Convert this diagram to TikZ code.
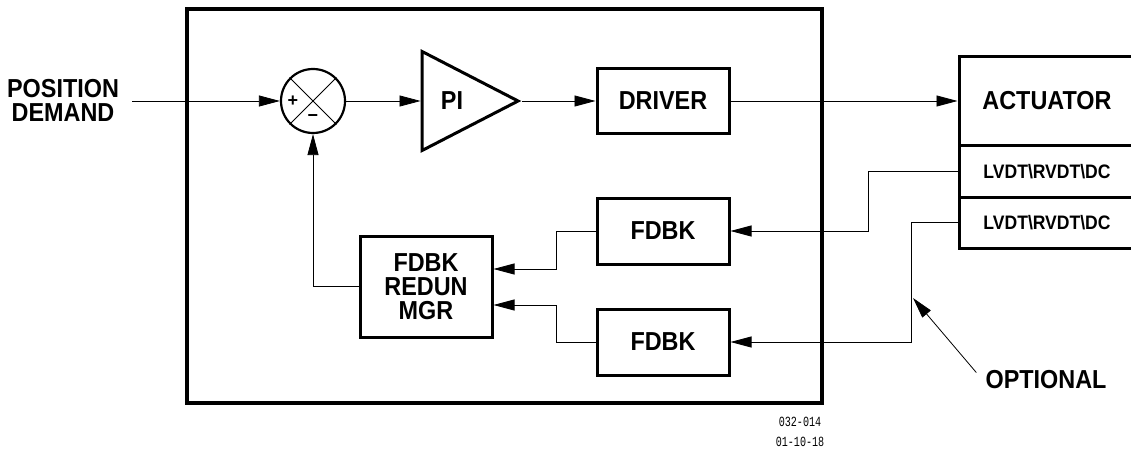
\documentclass[tikz,border=0pt]{standalone}
\usepackage{fontspec}
\setmainfont{Liberation Sans}
\newfontfamily\cadfont[FakeStretch=0.9]{Liberation Sans}
\newfontfamily\cadmono[FakeStretch=0.72]{Liberation Mono}
\usetikzlibrary{arrows.meta,shapes.geometric,calc}

\begin{document}
\begin{tikzpicture}[x=1pt, y=-1pt,
  big/.style={font=\cadfont\fontsize{26}{24}\selectfont\bfseries, align=center, inner sep=0pt},
  small/.style={font=\cadfont\fontsize{19.5}{20}\selectfont\bfseries},
  blk/.style={draw, line width=3pt, minimum width=132pt, inner sep=0pt, big},
  wire/.style={line width=0.8pt},
  arr/.style={-{Triangle[length=21pt,width=11pt]}}]
  \useasboundingbox (0,0) rectangle (1131,449);
  \clip (0,0) rectangle (1131,449);
  \draw[line width=3.5pt] (187,9) rectangle (822,403);
  \node[big] (pd) at (63,100) {POSITION\\DEMAND};
  \coordinate (in) at (132,101);
  \node[circle, draw, line width=2.2pt, minimum size=64pt, inner sep=0pt] (sum) at (313,101) {};
  \draw[wire] (sum.north west) -- (sum.south east);
  \draw[wire] (sum.north east) -- (sum.south west);
  \node[font=\fontsize{18}{18}\selectfont\bfseries, inner sep=0pt] (plus) at (293,101) {+};
  \node[font=\fontsize{18}{18}\selectfont\bfseries, inner sep=0pt] (minus) at (313,118) {−};
  \node[isosceles triangle, isosceles triangle stretches, draw, line width=3pt, minimum width=99pt, minimum height=96pt, inner sep=0pt, anchor=apex] (pi) at (522,101) {};
  \node[big] (pitxt) at (452,101) {PI};
  \node[blk, minimum height=65pt] (drv) at (663,101) {DRIVER};
  \node[blk, minimum height=66pt] (fb1) at (663,231) {FDBK};
  \node[blk, minimum height=66pt] (fb2) at (663,342) {FDBK};
  \node[blk, minimum height=101pt] (mgr) at (426,286.5) {FDBK\\REDUN\\MGR};
  \node[blk, minimum width=176pt, minimum height=89pt] (act) at (1047,101) {ACTUATOR};
  \node[blk, small, minimum width=176pt, minimum height=51.5pt] (lvdta) at (1047,171.25) {LVDT\textbackslash RVDT\textbackslash DC};
  \node[blk, small, minimum width=176pt, minimum height=51pt] (lvdtb) at (1047,222.5) {LVDT\textbackslash RVDT\textbackslash DC};
  \node[big] (opt) at (1046,380) {OPTIONAL};
  \coordinate (tap) at (913,298);
  \node[font=\cadmono\fontsize{14}{14}\selectfont, inner sep=0pt] (num) at (800,422) {032-014};
  \node[font=\cadmono\fontsize{14}{14}\selectfont, inner sep=0pt] (dat) at (800,442) {01-10-18};
  % forward path
  \draw[wire, arr] (in) -- (sum.west);
  \draw[wire, arr] (sum.east) -- (pi.west);
  \draw[wire, arr] (pi.apex) -- (drv.west);
  \draw[wire, arr] (drv.east) -- (act.west);
  % feedback path
  \draw[wire, arr] (lvdta.west) -- ++(-89,0) |- (fb1.east);
  \draw[wire, arr] (lvdtb.west) -- ++(-46,0) |- (fb2.east);
  \draw[wire, arr] (fb1.west) -- ++(-39,0) |- ($(mgr.east)+(0,-17.5)$);
  \draw[wire, arr] (fb2.west) -- ++(-39,0) |- ($(mgr.east)+(0,18.5)$);
  \draw[wire, arr] (mgr.west) -| (sum.south);
  \draw[wire, arr] ([shift={(-9,2)}]opt.north west) -- (tap);
\end{tikzpicture}
\end{document}
